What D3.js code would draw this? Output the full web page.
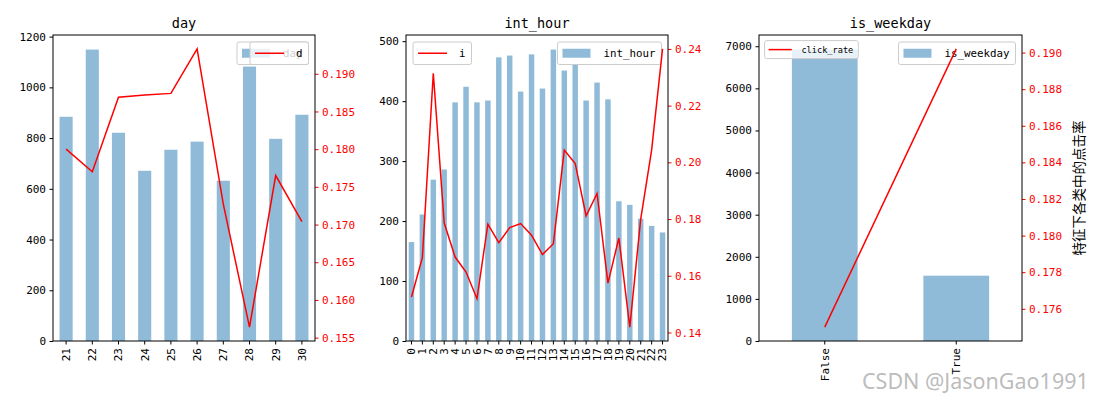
<!DOCTYPE html>
<html lang="zh">
<meta charset="utf-8">
<style>
  body { margin: 0; background: #fff; }
  text { font-family: "DejaVu Sans Mono", monospace; }
  .cjk { font-family: "Noto Sans CJK SC", sans-serif; }
</style>
<script src="https://cdn.jsdelivr.net/npm/d3@7"></script>
<body>
<div id="chart"></div>
<script>
// ---- data ----
const dayCats = ["21", "22", "23", "24", "25", "26", "27", "28", "29", "30"]
const dayCount = [884, 1149, 821, 671, 754, 786, 632, 1082, 797, 892]
const dayRate = [0.1800, 0.1770, 0.1869, 0.1872, 0.1874, 0.1933, 0.1727, 0.1564, 0.1765, 0.1704]
const dayLeftTicks = [0, 200, 400, 600, 800, 1000, 1200]
const dayRightTicks = [0.155, 0.160, 0.165, 0.170, 0.175, 0.180, 0.185, 0.190]

const hourCats = d3.range(24).map(String)
const hourCount = [165, 211, 269, 286, 398, 424, 398, 401, 473, 476, 416, 478,
                   421, 486, 451, 462, 401, 431, 403, 233, 227, 204, 192, 181]
const hourRate = [0.1525, 0.1664, 0.2314, 0.1786, 0.1666, 0.1613, 0.1519, 0.1782,
                  0.1717, 0.1770, 0.1784, 0.1743, 0.1675, 0.1713, 0.2043, 0.1996,
                  0.1811, 0.1890, 0.1574, 0.1733, 0.1419, 0.1800, 0.2043, 0.2400]
const hourLeftTicks = [0, 100, 200, 300, 400, 500]
const hourRightTicks = [0.14, 0.16, 0.18, 0.20, 0.22, 0.24]

const weekCats = ["False", "True"]
const weekCount = [6921, 1551]
const weekRate = [0.1750, 0.1902]
const weekLeftTicks = [0, 1000, 2000, 3000, 4000, 5000, 6000, 7000]
const weekRightTicks = [0.176, 0.178, 0.180, 0.182, 0.184, 0.186, 0.188, 0.190]

const titles = ["day", "int_hour", "is_weekday"]
const lineLabels = ["d", "i", "click_rate"]
const rightLabel = "特征下各类中的点击率"
const watermark = "CSDN @JasonGao1991"

// ---- layout ----
const W = 1100, H = 400
const TOP = 35, BOTTOM = 341
const BAR = "#1f77b4"
const RED = "#ff0000"

const svg = d3.select("#chart").append("svg")
  .attr("width", W)
  .attr("height", H)

function legend(g, side, x0, x1, kind, label, s) {
  const fs = 10.8 * s, pad = 5 * s, hl = 29 * s, gap = 12 * s, h = 22.5 * s
  const lg = g.append("g")
  const box = lg.append("rect")
    .attr("rx", 2)
    .attr("fill", "#fff").attr("fill-opacity", 0.8)
    .attr("stroke", "#ccc").attr("stroke-width", 1)
  const t = lg.append("text")
    .style("font-size", fs + "px")
    .attr("dominant-baseline", "central")
    .text(label)
  const tw = t.node().getComputedTextLength()
  const w = pad + hl + gap + tw + pad + 1
  const bx = side === "right" ? x1 - 6.5 - w : x0 + 7 * s
  const by = TOP + 7 * s
  box.attr("x", bx).attr("y", by).attr("width", w).attr("height", h)
  const cy = by + h / 2
  if (kind === "bar") {
    lg.append("rect")
      .attr("x", bx + pad).attr("y", cy - 4.5 * s)
      .attr("width", hl - 1).attr("height", 9 * s)
      .attr("fill", BAR).attr("fill-opacity", 0.5)
  } else {
    lg.append("line")
      .attr("x1", bx + pad).attr("x2", bx + pad + hl)
      .attr("y1", cy).attr("y2", cy)
      .attr("stroke", RED).attr("stroke-width", 1.5)
  }
  t.attr("x", bx + pad + hl + gap).attr("y", cy)
}

function panel(o) {
  const g = svg.append("g")

  const x = d3.scaleBand().domain(o.cats).range([o.x0, o.x1])
    .paddingInner(0.5).paddingOuter(0.25)
  const yL = d3.scaleLinear().domain([0, d3.max(o.counts) * 1.05]).range([BOTTOM, TOP])
  const [mn, mx] = d3.extent(o.rates)
  const m = (mx - mn) * 0.05
  const yR = d3.scaleLinear().domain([mn - m, mx + m]).range([BOTTOM, TOP])

  // bars
  g.selectAll(".bar").data(o.cats).join("rect")
    .attr("class", "bar")
    .attr("x", d => x(d))
    .attr("width", x.bandwidth())
    .attr("y", (d, i) => yL(o.counts[i]))
    .attr("height", (d, i) => BOTTOM - yL(o.counts[i]))
    .attr("fill", BAR).attr("fill-opacity", 0.5)

  // left axis
  const la = g.append("g").attr("transform", `translate(${o.x0},0)`)
    .call(d3.axisLeft(yL).tickValues(o.leftTicks).tickSize(3.5).tickPadding(3.5).tickFormat(d3.format("d")))
  la.select(".domain").remove()
  la.selectAll("text").style("font-size", "11px").attr("fill", "#000")

  // bottom axis
  const xa = g.append("g").attr("transform", `translate(0,${BOTTOM})`)
    .call(d3.axisBottom(x).tickSize(3.5))
  xa.select(".domain").remove()
  xa.selectAll("text")
    .style("font-size", "11px").attr("fill", "#000")
    .attr("y", 0).attr("x", -7).attr("dy", "0.35em")
    .attr("transform", "rotate(-90)")
    .style("text-anchor", "end")

  legend(g, o.barSide, o.x0, o.x1, "bar", o.title, 1)

  // rate line
  g.append("path")
    .datum(o.rates)
    .attr("fill", "none")
    .attr("stroke", RED)
    .attr("stroke-width", 1.5)
    .attr("d", d3.line()
      .x((d, i) => x(o.cats[i]) + x.bandwidth() / 2)
      .y(d => yR(d)))

  legend(g, o.lineSide, o.x0, o.x1, "line", o.lineLabel, o.lineScale)

  // right axis
  const ra = g.append("g").attr("transform", `translate(${o.x1},0)`)
    .call(d3.axisRight(yR).tickValues(o.rightTicks).tickSize(3.5).tickPadding(3.5).tickFormat(d3.format(o.rfmt)))
  ra.select(".domain").remove()
  ra.selectAll("line").attr("stroke", RED)
  ra.selectAll("text").style("font-size", "11px").attr("fill", RED)

  // spines
  g.append("rect")
    .attr("x", o.x0).attr("y", TOP)
    .attr("width", o.x1 - o.x0).attr("height", BOTTOM - TOP)
    .attr("fill", "none").attr("stroke", "#000").attr("stroke-width", 1)

  // title
  g.append("text")
    .attr("x", (o.x0 + o.x1) / 2).attr("y", 28)
    .attr("text-anchor", "middle")
    .style("font-size", "13.5px")
    .text(o.title)
}

panel({ x0: 53, x1: 315, cats: dayCats, counts: dayCount, rates: dayRate,
  leftTicks: dayLeftTicks, rightTicks: dayRightTicks, rfmt: ".3f",
  title: titles[0], lineLabel: lineLabels[0], barSide: "right", lineSide: "right", lineScale: 1 })
panel({ x0: 406, x1: 668, cats: hourCats, counts: hourCount, rates: hourRate,
  leftTicks: hourLeftTicks, rightTicks: hourRightTicks, rfmt: ".2f",
  title: titles[1], lineLabel: lineLabels[1], barSide: "right", lineSide: "left", lineScale: 1 })
panel({ x0: 759, x1: 1022, cats: weekCats, counts: weekCount, rates: weekRate,
  leftTicks: weekLeftTicks, rightTicks: weekRightTicks, rfmt: ".3f",
  title: titles[2], lineLabel: lineLabels[2], barSide: "right", lineSide: "left", lineScale: 0.8 })

// right y label of the last panel
svg.append("text")
  .attr("class", "cjk")
  .attr("transform", `translate(1078,${(TOP + BOTTOM) / 2}) rotate(-90)`)
  .attr("text-anchor", "middle")
  .attr("dominant-baseline", "central")
  .style("font-size", "13.5px")
  .text(rightLabel)

// watermark
svg.append("text")
  .attr("x", 862).attr("y", 389)
  .style("font-family", "'Noto Sans', sans-serif")
  .style("font-size", "21.5px")
  .attr("fill", "#aaa").attr("fill-opacity", 0.8)
  .text(watermark)
</script>
</body>
</html>
